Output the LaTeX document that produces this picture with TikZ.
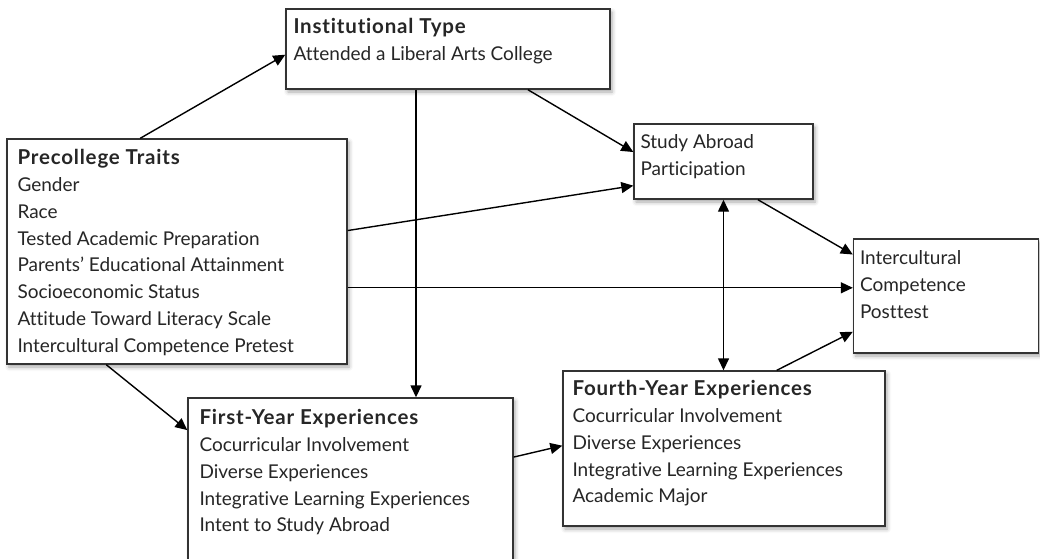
\documentclass[tikz,border=0pt]{standalone}
\usepackage{fontspec}
\setmainfont{Lato}[Ligatures=NoCommon]
\usepackage{tikz}
\usetikzlibrary{arrows.meta,positioning,shadows.blur}
\newcommand{\boxhead}[1]{{\bfseries\fontsize{20.5}{26.8}\selectfont\addfontfeature{LetterSpace=4}#1}}

\begin{document}
\begin{tikzpicture}
	[x=1pt,y=-1pt,
	block/.style={rectangle,draw=black!80,fill=white,line width=1.4pt,inner sep=0pt,
		blur shadow={shadow xshift=2pt,shadow yshift=-3pt,shadow blur radius=4pt,shadow opacity=35}},
	blocktext/.style={anchor=north west,align=left,inner sep=0pt,text=black!85,
		font=\fontsize{19}{26.8}\selectfont},
	link/.style={line width=1.4pt,-{Triangle[length=12pt,width=11pt]}},
	dlink/.style={line width=1.4pt,{Triangle[length=12pt,width=11pt]}-{Triangle[length=12pt,width=11pt]}}]
	\useasboundingbox (0,0) rectangle (1040,558);
	% boxes
	\node (inst) at (448,49) [block,minimum width=324pt,minimum height=80pt] {};
	\node (pre) at (177,251.5) [block,minimum width=340pt,minimum height=225pt] {};
	\node (abroad) at (723.5,161.5) [block,minimum width=179pt,minimum height=75pt] {};
	\node (post) at (946,296) [block,minimum width=185pt,minimum height=114pt] {};
	\node (fourth) at (724,448.5) [block,minimum width=322pt,minimum height=155pt] {};
	\node (first) at (350.5,480) [block,minimum width=325pt,minimum height=164pt] {};
	% texts
	\node [blocktext,below right=10pt and 8pt of inst.north west]
		{\boxhead{Institutional Type}\\Attended a Liberal Arts College};
	\node [blocktext,below right=11pt and 11pt of pre.north west]
		{\boxhead{Precollege Traits}\\Gender\\Race\\Tested Academic Preparation\\Parents’ Educational Attainment\\Socioeconomic Status\\Attitude Toward Literacy Scale\\Intercultural Competence Pretest};
	\node [blocktext,below right=11pt and 7pt of abroad.north west]
		{Study Abroad\\Participation};
	\node [blocktext,below right=12pt and 7pt of post.north west]
		{Intercultural\\Competence\\Posttest};
	\node [blocktext,below right=10pt and 10pt of fourth.north west]
		{\boxhead{Fourth-Year Experiences}\\Cocurricular Involvement\\Diverse Experiences\\Integrative Learning Experiences\\Academic Major};
	\node [blocktext,below right=12pt and 12pt of first.north west]
		{\boxhead{First-Year Experiences}\\Cocurricular Involvement\\Diverse Experiences\\Integrative Learning Experiences\\Intent to Study Abroad};
	% paths
	\coordinate (drop) at (416,0);
	\draw [link] (pre.108) -- (inst.182);
	\draw [link] (inst.333) -- (abroad.174);
	\draw [link] (pre.7) -- (abroad.195);
	\draw [link] (pre.348) -- (pre.348 -| post.west);
	\draw [link] (abroad.312) -- (post.156);
	\draw [dlink] (abroad.south) -- (abroad.south |- fourth.north);
	\draw [link] (fourth.56) -- (post.201);
	\draw [link] (pre.238) -- (first.163);
	\draw [link] (inst.south -| drop) -- (first.north -| drop);
	\draw [link] (first.8) -- (fourth.179);
\end{tikzpicture}
\end{document}
